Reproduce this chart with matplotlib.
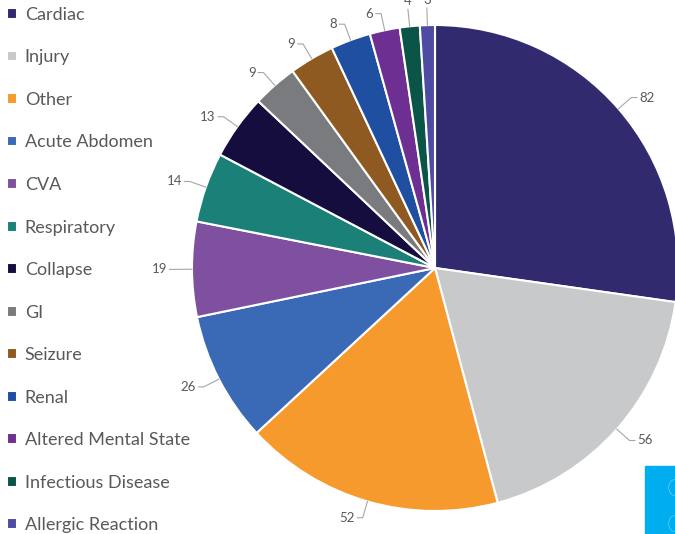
import numpy as np
import matplotlib
matplotlib.use("Agg")
from matplotlib import pyplot as plt
from matplotlib.patches import Rectangle

categories = ["Cardiac", "Injury", "Other", "Acute Abdomen", "CVA", "Respiratory",
              "Collapse", "GI", "Seizure", "Renal", "Altered Mental State",
              "Infectious Disease", "Allergic Reaction"]
counts = [82, 56, 52, 26, 19, 14, 13, 9, 9, 8, 6, 4, 3]
colors = ["#312A6E", "#C8C9CB", "#F79A2E", "#3A6AB5", "#7F4FA0", "#1B8078",
          "#150D3E", "#7A7B7E", "#8F5A22", "#1F4FA0", "#6E2F93", "#0B5448",
          "#4E4BA3"]

plt.rcParams["font.family"] = ["Lato", "DejaVu Sans"]
text_grey = "#595959"

fig = plt.figure(figsize=(6.75, 5.34), dpi=100)
ax = fig.add_axes([0, 0, 1, 1])

wedges, _ = ax.pie(counts, colors=colors, startangle=90, counterclock=False,
                   radius=1.0, wedgeprops=dict(edgecolor="white", linewidth=1.5))

# pie centre at (435, 268) px, radius 243 px
ax.set_aspect("auto")
ax.set_xlim(-435 / 243, 240 / 243)
ax.set_ylim(-266 / 243, 268 / 243)
ax.axis("off")

# data labels with elbow leader lines
for w, v in zip(wedges, counts):
    ang = np.deg2rad((w.theta1 + w.theta2) / 2)
    c, s = np.cos(ang), np.sin(ang)
    x0, y0 = 1.0 * c, 1.0 * s
    x1, y1 = 1.07 * c, 1.07 * s
    if abs(c) < 0.15:
        ax.plot([x0, x1], [y0, y1], color="#A6A6A6", lw=0.8, clip_on=False)
        ax.text(x1, y1 + 0.01, str(v), ha="center", va="bottom", fontsize=9.5,
                color=text_grey)
    else:
        side = 1 if c > 0 else -1
        x2 = x1 + side * 0.022
        ax.plot([x0, x1, x2], [y0, y1, y1], color="#A6A6A6", lw=0.8, clip_on=False)
        ax.text(x2 + side * 0.01, y1, str(v), ha="left" if side > 0 else "right",
                va="center", fontsize=9.5, color=text_grey)

leg = fig.legend(wedges, categories, loc="upper left",
                 bbox_to_anchor=(5 / 675, 1 - 5 / 534),
                 frameon=False, fontsize=13, labelcolor=text_grey,
                 handlelength=0.55, handleheight=0.55, handletextpad=0.45,
                 labelspacing=1.47, borderaxespad=0, borderpad=0.1)

# partially visible box at the lower right corner
fig.patches.append(Rectangle((645 / 675, 0), 40 / 675, 68 / 534,
                             transform=fig.transFigure, color="#00AEEF", zorder=5))
fig.text(666 / 675, 44 / 534, "C", color="white", fontsize=17, va="center",
         ha="left", zorder=6, fontweight="light")
fig.text(666 / 675, 9 / 534, "C", color="white", fontsize=17, va="center",
         ha="left", zorder=6, fontweight="light")

fig.savefig("out.png", dpi=100)
